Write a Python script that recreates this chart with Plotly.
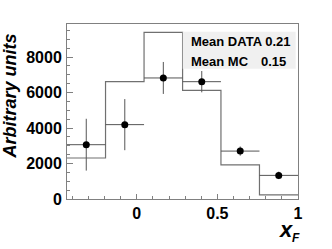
import plotly.graph_objects as go

# bin edges of x_F
bin_edges = [-0.433, -0.194, 0.045, 0.284, 0.522, 0.761, 1.0]
# MC histogram contents
mc_values = [2310, 6610, 9390, 6120, 1920, 230]
# data points and errors
data_values = [3060, 4190, 6820, 6610, 2700, 1330]
data_errors = [1460, 1440, 900, 600, 260, 210]

mean_data_label = "Mean DATA 0.21"
mean_mc_label = "Mean MC"
mean_mc_value = "0.15"

centers = [(bin_edges[i] + bin_edges[i + 1]) / 2 for i in range(len(mc_values))]
half_w = [(bin_edges[i + 1] - bin_edges[i]) / 2 for i in range(len(mc_values))]

FONT = "Liberation Sans, Arial, Helvetica, sans-serif"
fig = go.Figure()

fig.add_trace(go.Scatter(
    x=bin_edges, y=mc_values + [mc_values[-1]],
    mode="lines", line=dict(shape="hv", color="#707070", width=1.2),
    hoverinfo="skip", showlegend=False))

fig.add_trace(go.Scatter(
    x=centers, y=data_values, mode="markers",
    marker=dict(color="black", size=7),
    error_y=dict(type="data", array=data_errors, color="#555555", thickness=1, width=0),
    error_x=dict(type="data", array=half_w, color="#555555", thickness=1, width=0),
    showlegend=False))

axis_common = dict(
    showgrid=False, zeroline=False, showline=True, linecolor="#808080", linewidth=1,
    mirror=True, ticks="inside", tickcolor="#808080", tickwidth=1, automargin=False,
    tickfont=dict(family=FONT, size=16, color="black", weight="bold"),
)

fig.update_xaxes(range=[-0.433, 1.0], tickvals=[0, 0.5, 1], ticktext=["0", "0.5", "1"],
                 ticklen=5, minor=dict(dtick=0.1, tick0=0, ticks="inside", ticklen=3,
                                       tickcolor="#808080", showgrid=False),
                 **axis_common)
fig.update_yaxes(range=[0, 9860], tickvals=[0, 2000, 4000, 6000, 8000],
                 ticklen=6, minor=dict(dtick=500, tick0=0, ticks="inside", ticklen=3,
                                       tickcolor="#808080", showgrid=False),
                 ticklabelstandoff=1,
                 **axis_common)

fig.add_shape(type="rect", xref="paper", yref="paper", x0=0.501, x1=0.99, y0=0.745, y1=0.956,
              fillcolor="#f0f0f0", line=dict(width=0), layer="above")

txt_font = dict(family=FONT, size=13, color="black", weight="bold")
fig.add_annotation(xref="paper", yref="paper", x=0.528, y=0.9, text=mean_data_label,
                   showarrow=False, xanchor="left", yanchor="middle", font=txt_font)
fig.add_annotation(xref="paper", yref="paper", x=0.528, y=0.786, text=mean_mc_label,
                   showarrow=False, xanchor="left", yanchor="middle", font=txt_font)
fig.add_annotation(xref="paper", yref="paper", x=0.83, y=0.786, text=mean_mc_value,
                   showarrow=False, xanchor="left", yanchor="middle", font=txt_font)

fig.add_annotation(xref="paper", yref="paper", x=-0.245, y=0.957, text="Arbitrary units",
                   textangle=-90, showarrow=False, xanchor="center", yanchor="top",
                   font=dict(family=FONT, size=18, color="black", weight="bold", style="italic"))
fig.add_annotation(xref="paper", yref="paper", x=0.95, y=-0.173, text="x",
                   showarrow=False, xanchor="center", yanchor="middle",
                   font=dict(family=FONT, size=22, color="black", weight="bold", style="italic"))
fig.add_annotation(xref="paper", yref="paper", x=0.992, y=-0.22, text="F",
                   showarrow=False, xanchor="center", yanchor="middle",
                   font=dict(family=FONT, size=12, color="black", weight="bold", style="italic"))

fig.update_layout(width=332, height=249, margin=dict(l=67, r=34, t=24, b=50, autoexpand=False),
                  plot_bgcolor="white", paper_bgcolor="white")

fig.write_html("out.html", config={"displayModeBar": False},
               post_script="document.body.style.margin='0';")
